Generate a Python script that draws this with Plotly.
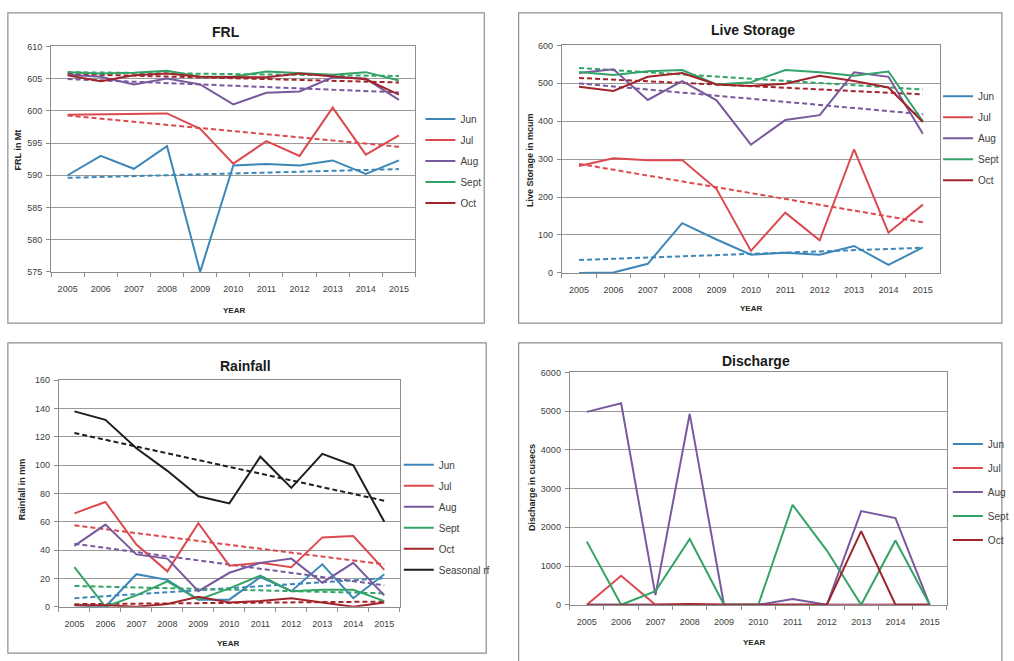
import numpy as np
import plotly.graph_objects as go

# ---------------------------------------------------------------- data
years = [str(y) for y in range(2005, 2016)]
months = ["Jun", "Jul", "Aug", "Sept", "Oct"]

# Full reservoir level (Mt)
frl_jun = [590.0, 593.0, 591.0, 594.5, 575.0, 591.5, 591.75, 591.5, 592.3, 590.2, 592.3]
frl_jul = [599.4, 599.5, 599.6, 599.6, 597.2, 591.8, 595.3, 593.0, 600.5, 593.2, 596.2]
frl_aug = [605.6, 605.3, 604.1, 605.0, 604.1, 601.0, 602.8, 603.0, 605.2, 605.0, 601.7]
frl_sept = [606.0, 605.8, 605.9, 606.2, 605.3, 605.3, 606.1, 605.8, 605.6, 606.0, 604.7]
frl_oct = [605.5, 604.6, 605.5, 605.8, 605.3, 605.2, 605.2, 605.8, 605.3, 604.9, 602.5]

# Live storage (mcum)
ls_jun = [0, 1, 24, 131, 88, 48, 53, 48, 71, 21, 67]
ls_jul = [282, 302, 297, 298, 221, 58, 159, 86, 326, 106, 180]
ls_aug = [527, 537, 456, 506, 455, 338, 403, 416, 529, 517, 367]
ls_sept = [530, 522, 532, 535, 497, 503, 535, 529, 520, 531, 400]
ls_oct = [491, 480, 517, 527, 497, 493, 499, 520, 506, 489, 398]

# Rainfall (mm)
rf_jun = [1, 0, 23, 19, 5, 5, 21, 11, 30, 6, 23]
rf_jul = [66, 74, 44, 25, 59, 29, 31, 28, 49, 50, 26]
rf_aug = [43, 58, 37, 34, 11, 24, 31, 34, 17, 31, 8]
rf_sept = [28, 0, 8, 18, 5, 13, 22, 11, 12, 12, 4]
rf_oct = [1, 1, 0, 2, 7, 3, 4, 6, 3, 0, 3]
rf_seasonal = [138, 132, 112, 96, 78, 73, 106, 84, 108, 100, 60]

# Discharge (cusecs)
dq_jun = [0, 0, 0, 0, 0, 0, 0, 0, 0, 0, 0]
dq_jul = [0, 750, 0, 0, 0, 0, 0, 0, 0, 0, 0]
dq_aug = [4980, 5200, 250, 4930, 0, 0, 150, 0, 2420, 2240, 0]
dq_sept = [1630, 0, 350, 1700, 0, 0, 2580, 1400, 0, 1660, 0]
dq_oct = [0, 0, 0, 20, 0, 0, 0, 0, 1900, 0, 0]

# ---------------------------------------------------------------- style
colors = {
    "Jun": "#3D87B8",
    "Jul": "#DC4A50",
    "Aug": "#79599E",
    "Sept": "#33A367",
    "Oct": "#A1242B",
    "Seasonal rf": "#1E1E1E",
}
FONT = "Liberation Sans, Arial, sans-serif"
W, H = 1014, 661


def px_x(p):
    return p / W


def px_y(p):
    return 1 - p / H


panels = [
    dict(
        n=1, title="FRL", ytitle="FRL in Mt",
        series=[("Jun", frl_jun), ("Jul", frl_jul), ("Aug", frl_aug),
                ("Sept", frl_sept), ("Oct", frl_oct)],
        trend=True, yrange=[575, 610], dtick=5,
        xdom=[52, 423], ydom=[42, 271],
        frame=[8, 8, 493, 323],
        title_xy=(230, 27), ytitle_xy=(18, 147), year_xy=(238, 310),
        legend_xy=(428, 101), gap=2,
    ),
    dict(
        n=2, title="Live Storage", ytitle="Live Storage in mcum",
        series=[("Jun", ls_jun), ("Jul", ls_jul), ("Aug", ls_aug),
                ("Sept", ls_sept), ("Oct", ls_oct)],
        trend=True, yrange=[0, 600], dtick=100,
        xdom=[572, 957], ydom=[41, 272],
        frame=[528, 8, 1020, 323],
        title_xy=(767, 25), ytitle_xy=(539, 157), year_xy=(765, 308),
        legend_xy=(955, 78), gap=2,
    ),
    dict(
        n=3, title="Rainfall", ytitle="Rainfall in mm",
        series=[("Jun", rf_jun), ("Jul", rf_jul), ("Aug", rf_aug),
                ("Sept", rf_sept), ("Oct", rf_oct), ("Seasonal rf", rf_seasonal)],
        trend=True, yrange=[0, 160], dtick=20,
        xdom=[60, 407], ydom=[381, 611],
        frame=[8, 343, 495, 658],
        title_xy=(250, 367), ytitle_xy=(22, 492), year_xy=(232, 648),
        legend_xy=(406, 452), gap=2,
    ),
    dict(
        n=4, title="Discharge", ytitle="Discharge in cusecs",
        series=[("Jun", dq_jun), ("Jul", dq_jul), ("Aug", dq_aug),
                ("Sept", dq_sept), ("Oct", dq_oct)],
        trend=False, yrange=[0, 6000], dtick=1000,
        xdom=[580, 964], ydom=[373, 609],
        frame=[528, 343, 1020, 670],
        title_xy=(770, 361), ytitle_xy=(541, 490), year_xy=(768, 647),
        legend_xy=(965, 431), gap=5,
    ),
]

fig = go.Figure()
layout = dict(
    width=W, height=H,
    margin=dict(l=0, r=0, t=0, b=0),
    paper_bgcolor="white", plot_bgcolor="white",
    font=dict(family=FONT, size=9, color="#404040"),
    showlegend=True,
    annotations=[], shapes=[],
)

xs = np.arange(len(years))
for p in panels:
    n = p["n"]
    sfx = "" if n == 1 else str(n)
    xa, ya = "x" + sfx, "y" + sfx
    leg = "legend" + sfx

    # trend lines first so the series sit on top
    if p["trend"]:
        for name, vals in p["series"]:
            slope, icpt = np.polyfit(xs, np.asarray(vals, float), 1)
            fig.add_trace(go.Scatter(
                x=years, y=slope * xs + icpt, mode="lines",
                line=dict(color=colors[name], width=2, dash="5px,3px"),
                xaxis=xa, yaxis=ya, showlegend=False, hoverinfo="skip",
            ))
    for name, vals in p["series"]:
        fig.add_trace(go.Scatter(
            x=years, y=vals, mode="lines", name=name,
            line=dict(color=colors[name], width=2),
            xaxis=xa, yaxis=ya, legend=leg, legendgroup=f"{n}-{name}",
        ))

    axis_common = dict(
        showline=True, linecolor="#8c8c8c", linewidth=1, mirror=True,
        ticks="outside", ticklen=4, tickcolor="#8c8c8c",
        tickfont=dict(family=FONT, size=9, color="#404040"),
        fixedrange=True,
    )
    layout["xaxis" + sfx] = dict(
        axis_common,
        domain=[px_x(p["xdom"][0]), px_x(p["xdom"][1])],
        anchor=ya, type="category", tickson="boundaries",
        range=[-0.5, len(years) - 0.5],
        showgrid=False, categoryorder="array", categoryarray=years,
        ticklabelstandoff=8,
    )
    layout["yaxis" + sfx] = dict(
        axis_common,
        domain=[px_y(p["ydom"][1]), px_y(p["ydom"][0])],
        anchor=xa, range=p["yrange"], dtick=p["dtick"], tick0=p["yrange"][0],
        showgrid=True, gridcolor="#9a9a9a", gridwidth=1, zeroline=False,
        ticklabelstandoff=2,
    )
    layout[leg] = dict(
        x=px_x(p["legend_xy"][0]), y=px_y(p["legend_xy"][1]),
        xanchor="left", yanchor="top",
        bgcolor="rgba(0,0,0,0)", borderwidth=0,
        font=dict(family=FONT, size=10, color="#404040"),
        itemwidth=30, tracegroupgap=p["gap"],
    )

    fx0, fy0, fx1, fy1 = p["frame"]
    layout["shapes"].append(dict(
        type="rect", xref="paper", yref="paper",
        x0=px_x(fx0), x1=px_x(fx1), y0=px_y(fy1), y1=px_y(fy0),
        line=dict(color="#8f8f8f", width=1.2), layer="below",
    ))
    tx, ty = p["title_xy"]
    layout["annotations"].append(dict(
        text=f"<b>{p['title']}</b>", x=px_x(tx), y=px_y(ty),
        xref="paper", yref="paper", showarrow=False,
        xanchor="center", yanchor="middle",
        font=dict(family=FONT, size=14, color="#1a1a1a"),
    ))
    ax_, ay_ = p["ytitle_xy"]
    layout["annotations"].append(dict(
        text=f"<b>{p['ytitle']}</b>", x=px_x(ax_), y=px_y(ay_),
        xref="paper", yref="paper", showarrow=False, textangle=-90,
        xanchor="center", yanchor="middle",
        font=dict(family=FONT, size=9, color="#262626"),
    ))
    yx, yy = p["year_xy"]
    layout["annotations"].append(dict(
        text="<b>YEAR</b>", x=px_x(yx), y=px_y(yy),
        xref="paper", yref="paper", showarrow=False,
        xanchor="center", yanchor="middle",
        font=dict(family=FONT, size=8, color="#262626"),
    ))

fig.update_layout(**layout)
fig.write_html("out.html", config={"displayModeBar": False})
